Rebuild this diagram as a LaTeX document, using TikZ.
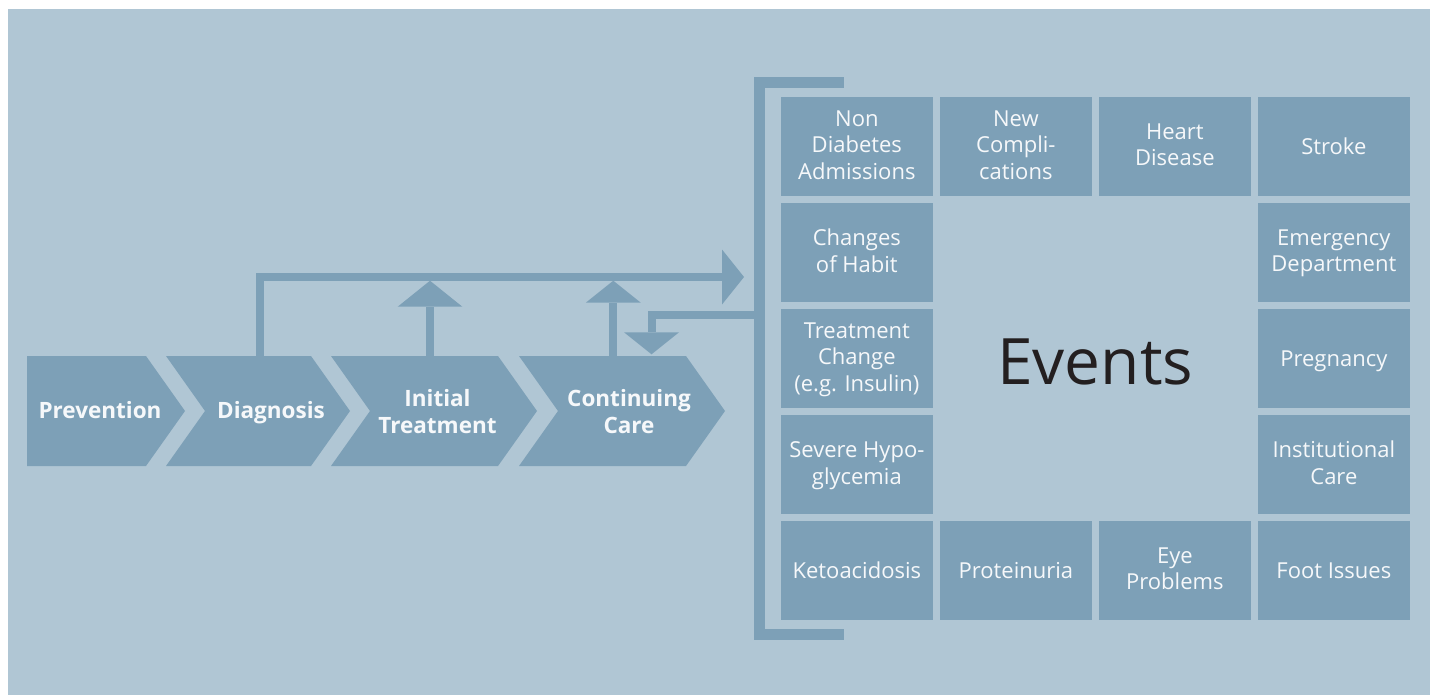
\documentclass[tikz,border=0pt]{standalone}
\usepackage{fontspec}
\setmainfont{Open Sans}
\usetikzlibrary{arrows.meta}

\definecolor{panel}{RGB}{176,198,212}
\definecolor{tile}{RGB}{125,160,183}
\definecolor{ink}{RGB}{35,31,32}
\definecolor{paper}{RGB}{246,248,250}

\begin{document}
\begin{tikzpicture}[x=1pt,y=-1pt,
  event/.style={fill=tile, minimum width=151.7pt, minimum height=98.7pt,
    inner sep=0pt},
  eventtext/.style={text=paper, align=center, inner sep=0pt, yshift=-2.5pt,
    font=\fontsize{22}{26.5}\selectfont,
    execute at begin node=\strut, execute at end node=\strut},
  stage/.style={text=paper, align=center, inner sep=0pt,
    font=\bfseries\fontsize{22.5}{27}\selectfont,
    execute at begin node=\strut, execute at end node=\strut},
  flow/.style={draw=tile, line width=8pt},
  bighead/.style={-{Triangle[width=64.6pt,length=26pt,line width=0pt]}},
  head/.style={-{Triangle[width=55pt,length=22pt,line width=0pt]}}
]
\useasboundingbox (0,0) rectangle (1437,695);
\fill[panel] (8,9) rectangle (1430,695);

% process chevrons
\fill[tile] (27,356) -- (146,356) -- (185,411) -- (146,466) -- (27,466) -- cycle;
\fill[tile] (166,356) -- (311,356) -- (350,411) -- (311,466) -- (166,466) -- (205,411) -- cycle;
\fill[tile] (331,356) -- (498,356) -- (537,411) -- (498,466) -- (331,466) -- (370,411) -- cycle;
\fill[tile] (519,356) -- (686,356) -- (725,411) -- (686,466) -- (519,466) -- (558,411) -- cycle;

\node[stage] (prev) at (100,412.6) {Prevention};
\node[stage] (diag) at (271,412.6) {Diagnosis};
\node[stage] (init) at (437.5,416) {Initial\\Treatment};
\node[stage] (cont) at (629,416) {Continuing\\Care};

% attachment points
\coordinate (diagtop) at (259.5,356);
\coordinate (inittop) at (430,356);
\coordinate (conttop) at (613.3,356);
\coordinate (busin) at (430,280.7);
\coordinate (busco) at (613.3,280.7);
\coordinate (evin) at (744,277);
\coordinate (evout) at (755,315);
\coordinate (contin) at (651.5,354.3);

% events bracket
\coordinate (brtop) at (843.7,82.65);
\coordinate (brbot) at (843.7,634.35);
\draw[tile, line width=11.3pt] (brtop) -- (759.65,82.65) -- (759.65,634.35) -- (brbot);

% connectors
\draw[flow, head] (diagtop) |- (evin);
\draw[flow, bighead] (inittop) -- (busin);
\draw[flow, head] (conttop) -- (busco);
\draw[flow, head] (evout) -| (contin);

% event tiles
\node[event, label={[eventtext]center:{Non\\Diabetes\\Admissions}}] (nda) at (856.85,146.35) {};
\node[event, label={[eventtext]center:{New\\Compli-\\cations}}] (nco) at (1015.85,146.35) {};
\node[event, label={[eventtext]center:{Heart\\Disease}}] (hrt) at (1174.85,146.35) {};
\node[event, label={[eventtext]center:{Stroke}}] (str) at (1333.85,146.35) {};
\node[event, label={[eventtext]center:{Changes\\of Habit}}] (hab) at (856.85,252.35) {};
\node[event, label={[eventtext]center:{Emergency\\Department}}] (emd) at (1333.85,252.35) {};
\node[event, label={[eventtext]center:{Treatment\\Change\\(e.g. Insulin)}}] (trc) at (856.85,358.35) {};
\node[event, label={[eventtext]center:{Pregnancy}}] (prg) at (1333.85,358.35) {};
\node[event, label={[eventtext]center:{Severe Hypo-\\glycemia}}] (hyp) at (856.85,464.35) {};
\node[event, label={[eventtext]center:{Institutional\\Care}}] (ins) at (1333.85,464.35) {};
\node[event, label={[eventtext]center:{Ketoacidosis}}] (ket) at (856.85,570.35) {};
\node[event, label={[eventtext]center:{Proteinuria}}] (pro) at (1015.85,570.35) {};
\node[event, label={[eventtext]center:{Eye\\Problems}}] (eye) at (1174.85,570.35) {};
\node[event, label={[eventtext]center:{Foot Issues}}] (fot) at (1333.85,570.35) {};

\node[text=ink, inner sep=0pt, font=\fontsize{64}{70}\selectfont] (evt) at (1095.3,362) {Events};
\end{tikzpicture}
\end{document}
